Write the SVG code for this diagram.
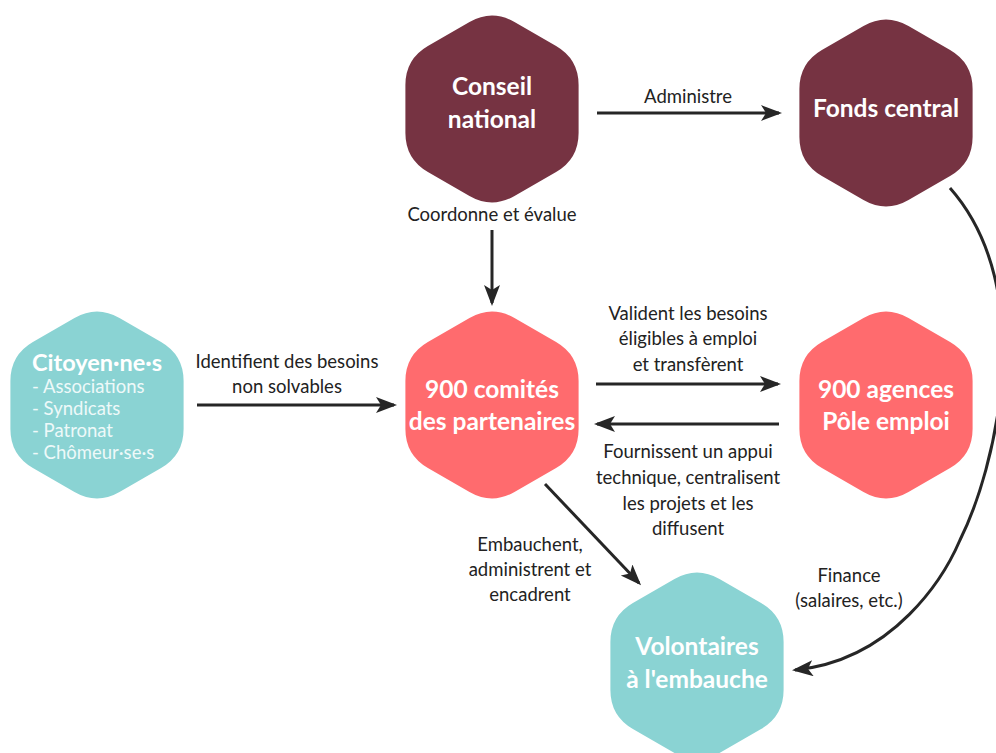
<svg xmlns="http://www.w3.org/2000/svg" width="996" height="753" viewBox="0 0 996 753">
<style>
.maroon{fill:#763342}
.coral{fill:#FF6B6E}
.teal{fill:#8AD3D3}
.title{font-family:Lato,"Open Sans",sans-serif;font-weight:bold;font-size:24.5px;fill:#fff;text-anchor:middle}
.sub{font-family:Lato,"Open Sans",sans-serif;font-size:18.5px;fill:#eef9f9}
.lbl{font-family:Lato,"Open Sans",sans-serif;font-size:18.5px;fill:#222;text-anchor:middle}
.conn{fill:none;stroke:#262626;stroke-width:3;marker-end:url(#arr)}
</style>
<defs>
<marker id="arr" markerUnits="userSpaceOnUse" markerWidth="22" markerHeight="18" refX="18" refY="8" orient="auto">
<path d="M0,0 L21,8 L0,16 L5,8 Z" fill="#262626"/>
</marker>
<path id="hex" d="M22.5,-87 L64.1,-63 Q86.6,-50 86.6,-24 L86.6,24 Q86.6,50 64.1,63 L22.5,87 Q0,100 -22.5,87 L-64.1,63 Q-86.6,50 -86.6,24 L-86.6,-24 Q-86.6,-50 -64.1,-63 L-22.5,-87 Q0,-100 22.5,-87 Z"/>
</defs>
<g id="connectors">
<path class="conn" d="M597,113 L779,113"/>
<path class="conn" d="M492,230 L492,303"/>
<path class="conn" d="M197,405 L394,405"/>
<path class="conn" d="M596,384 L778,384"/>
<path class="conn" d="M779,424 L597,424"/>
<path class="conn" d="M545,484 L639,583"/>
<path class="conn" d="M950,188 C1040,290 995,470 960,540 C945,575 895,660 795,670"/>
</g>
<g id="labels">
<text class="lbl" x="688" y="103">Administre</text>
<text class="lbl" x="492" y="221">Coordonne et évalue</text>
<text class="lbl" x="287" y="368">Identifient des besoins</text>
<text class="lbl" x="287" y="393">non solvables</text>
<text class="lbl" x="688" y="320">Valident les besoins</text>
<text class="lbl" x="688" y="345">éligibles à emploi</text>
<text class="lbl" x="688" y="371">et transfèrent</text>
<text class="lbl" x="688" y="458">Fournissent un appui</text>
<text class="lbl" x="688" y="484">technique, centralisent</text>
<text class="lbl" x="688" y="510">les projets et les</text>
<text class="lbl" x="688" y="535">diffusent</text>
<text class="lbl" x="530" y="551">Embauchent,</text>
<text class="lbl" x="530" y="576">administrent et</text>
<text class="lbl" x="530" y="601">encadrent</text>
<text class="lbl" x="849" y="582">Finance</text>
<text class="lbl" x="849" y="607">(salaires, etc.)</text>
</g>
<g id="conseil">
<use href="#hex" class="maroon" transform="translate(492,109)"/>
<text class="title" x="492" y="95">Conseil</text>
<text class="title" x="492" y="128">national</text>
</g>
<g id="fonds">
<use href="#hex" class="maroon" transform="translate(886,113)"/>
<text class="title" x="886" y="117">Fonds central</text>
</g>
<g id="comites">
<use href="#hex" class="coral" transform="translate(492,405)"/>
<text class="title" x="492" y="398">900 comités</text>
<text class="title" x="492" y="430">des partenaires</text>
</g>
<g id="agences">
<use href="#hex" class="coral" transform="translate(886,405)"/>
<text class="title" x="886" y="398">900 agences</text>
<text class="title" x="886" y="430">Pôle emploi</text>
</g>
<g id="citoyens">
<use href="#hex" class="teal" transform="translate(97,405)"/>
<text class="title" x="32" y="371" style="text-anchor:start;font-size:23.5px">Citoyen·ne·s</text>
<text class="sub" x="32" y="393">- Associations</text>
<text class="sub" x="32" y="415">- Syndicats</text>
<text class="sub" x="32" y="437">- Patronat</text>
<text class="sub" x="32" y="459">- Chômeur·se·s</text>
</g>
<g id="volontaires">
<use href="#hex" class="teal" transform="translate(697,666)"/>
<text class="title" x="697" y="655">Volontaires</text>
<text class="title" x="697" y="688">à l'embauche</text>
</g>
</svg>
